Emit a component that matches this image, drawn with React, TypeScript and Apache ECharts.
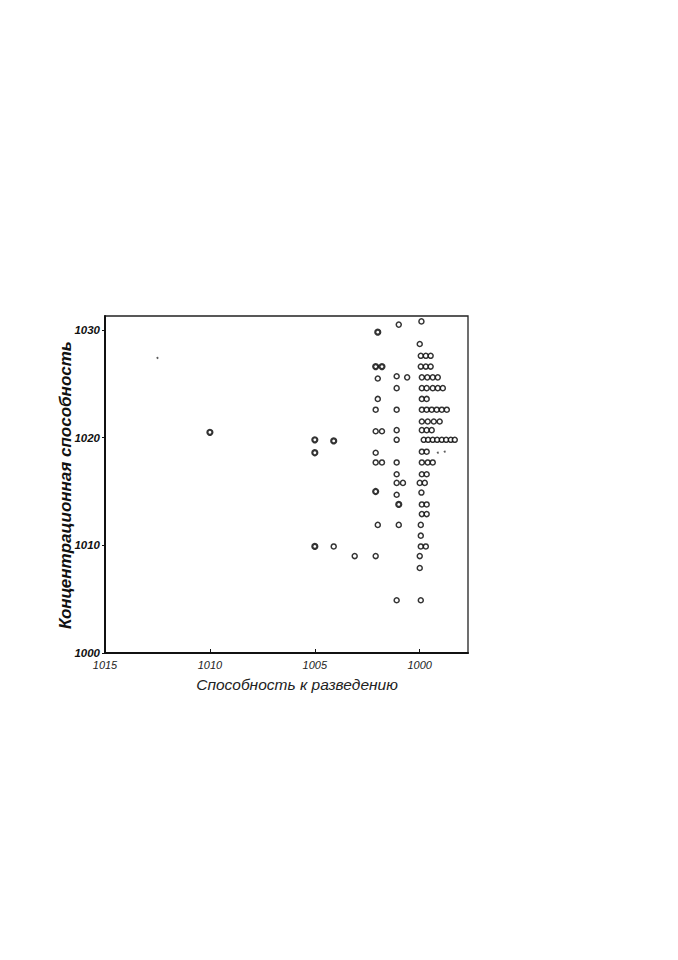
import React, { useEffect, useRef } from "react";
import * as echarts from "echarts";

// [dilution capacity, concentration capacity]
const column1000: number[][] = [
  [999.92, 1030.8],
  [1000.0, 1028.7],
  [999.95, 1027.6], [999.71, 1027.6], [999.48, 1027.6],
  [999.95, 1026.6], [999.71, 1026.6], [999.48, 1026.6],
  [999.9, 1025.6], [999.64, 1025.6], [999.38, 1025.6], [999.14, 1025.6],
  [999.9, 1024.6], [999.67, 1024.6], [999.38, 1024.6], [999.14, 1024.6], [998.9, 1024.6],
  [999.9, 1023.6], [999.67, 1023.6],
  [999.9, 1022.6], [999.67, 1022.6], [999.43, 1022.6], [999.19, 1022.6], [998.95, 1022.6], [998.71, 1022.6],
  [999.9, 1021.5], [999.62, 1021.5], [999.33, 1021.5], [999.05, 1021.5],
  [999.9, 1020.7], [999.67, 1020.7], [999.43, 1020.7],
  [999.81, 1019.8], [999.6, 1019.8], [999.38, 1019.8], [999.17, 1019.8], [998.95, 1019.8], [998.74, 1019.8], [998.52, 1019.8], [998.33, 1019.8],
  [999.9, 1018.7], [999.67, 1018.7],
  [999.9, 1017.7], [999.62, 1017.7], [999.38, 1017.7],
  [999.9, 1016.6], [999.67, 1016.6],
  [1000.0, 1015.8], [999.76, 1015.8],
  [999.92, 1014.9],
  [999.9, 1013.8], [999.67, 1013.8],
  [999.9, 1012.9], [999.67, 1012.9],
  [999.95, 1011.9],
  [999.95, 1010.9],
  [999.95, 1009.9], [999.71, 1009.9],
  [1000.0, 1009.0],
  [1000.0, 1007.9],
  [999.95, 1004.9],
];

const column1001: number[][] = [
  [1001.0, 1030.5],
  [1001.1, 1025.7], [1000.6, 1025.6],
  [1001.1, 1024.6],
  [1001.1, 1022.6],
  [1001.1, 1020.7],
  [1001.1, 1019.8],
  [1001.1, 1017.7],
  [1001.1, 1016.6],
  [1001.1, 1015.8], [1000.8, 1015.8],
  [1001.1, 1014.7],
  [1001.0, 1011.9],
  [1001.1, 1004.9],
];

const column1002: number[][] = [
  [1002.0, 1025.5],
  [1002.0, 1023.6],
  [1002.1, 1022.6],
  [1002.1, 1020.6], [1001.8, 1020.6],
  [1002.1, 1018.6],
  [1002.1, 1017.7], [1001.8, 1017.7],
  [1002.0, 1011.9],
  [1002.1, 1009.0],
];

const otherPoints: number[][] = [
  [1004.1, 1009.9],
  [1003.1, 1009.0],
];

// circles printed with a heavier stroke
const boldPoints: number[][] = [
  [1010.0, 1020.5],
  [1005.0, 1019.8],
  [1005.0, 1018.6],
  [1005.0, 1009.9],
  [1004.1, 1019.7],
  [1002.0, 1029.8],
  [1002.1, 1026.6], [1001.8, 1026.6],
  [1002.1, 1015.0],
  [1001.0, 1013.8],
];

const specks: number[][] = [
  [1012.5, 1027.4],
  [999.14, 1018.6],
  [998.81, 1018.7],
];

const xTicks = [1000, 1005, 1010, 1015];
const yTicks = [1000, 1010, 1020, 1030];

const xTitle = "Способность к разведению";
const yTitle = "Концентрационная способность";

export default function App() {
  const ref = useRef<HTMLDivElement>(null);
  useEffect(() => {
    document.body.style.margin = "0";
    if (!ref.current) return;
    const chart = echarts.init(ref.current, undefined, { renderer: "svg" });
    const font = "'Liberation Sans', 'DejaVu Sans', sans-serif";
    const circle = (w: number) => ({
      type: "scatter" as const,
      symbol: "circle",
      symbolSize: 5,
      itemStyle: { color: "#ffffff", borderColor: "#000", borderWidth: w },
      silent: true,
    });
    chart.setOption({
      animation: false,
      backgroundColor: "#ffffff",
      grid: {
        left: 105,
        top: 316,
        width: 363,
        height: 337,
        show: true,
        borderColor: "#222",
        borderWidth: 1.3,
        backgroundColor: "transparent",
      },
      xAxis: {
        type: "value",
        min: 997.7,
        max: 1015,
        inverse: true,
        splitLine: { show: false },
        axisLine: { show: true, lineStyle: { color: "#111", width: 2 } },
        axisTick: { show: true, inside: true, length: 4, customValues: xTicks, lineStyle: { color: "#111" } },
        axisLabel: {
          customValues: xTicks,
          formatter: (v: number) => String(v),
          margin: 6,
          color: "#222",
          fontSize: 11,
          fontStyle: "italic",
          fontFamily: font,
        },
      },
      yAxis: {
        type: "value",
        min: 1000,
        max: 1031.3,
        splitLine: { show: false },
        axisLine: { show: true, lineStyle: { color: "#111", width: 2 } },
        axisTick: { show: true, inside: false, length: 3, customValues: yTicks, lineStyle: { color: "#111" } },
        axisLabel: {
          customValues: yTicks,
          formatter: (v: number) => String(v),
          margin: 5,
          color: "#111",
          fontSize: 11.5,
          fontStyle: "italic",
          fontWeight: "bold",
          fontFamily: font,
        },
      },
      graphic: [
        {
          type: "text",
          x: 297,
          y: 684,
          style: {
            text: xTitle,
            fill: "#222",
            font: `italic 15.5px ${font}`,
            align: "center",
            verticalAlign: "middle",
          },
        },
        {
          type: "text",
          x: 65,
          y: 485,
          rotation: Math.PI / 2,
          style: {
            text: yTitle,
            fill: "#111",
            font: `italic bold 17px ${font}`,
            align: "center",
            verticalAlign: "middle",
          },
        },
      ],
      series: [
        { ...circle(1.5), data: column1000 },
        { ...circle(1.5), data: column1001 },
        { ...circle(1.5), data: column1002 },
        { ...circle(1.5), data: otherPoints },
        { ...circle(2.2), data: boldPoints },
        {
          type: "scatter",
          symbol: "circle",
          symbolSize: 2,
          itemStyle: { color: "#333" },
          data: specks,
          silent: true,
        },
      ],
    });
    return () => chart.dispose();
  }, []);
  return <div ref={ref} style={{ width: 678, height: 960 }} />;
}
